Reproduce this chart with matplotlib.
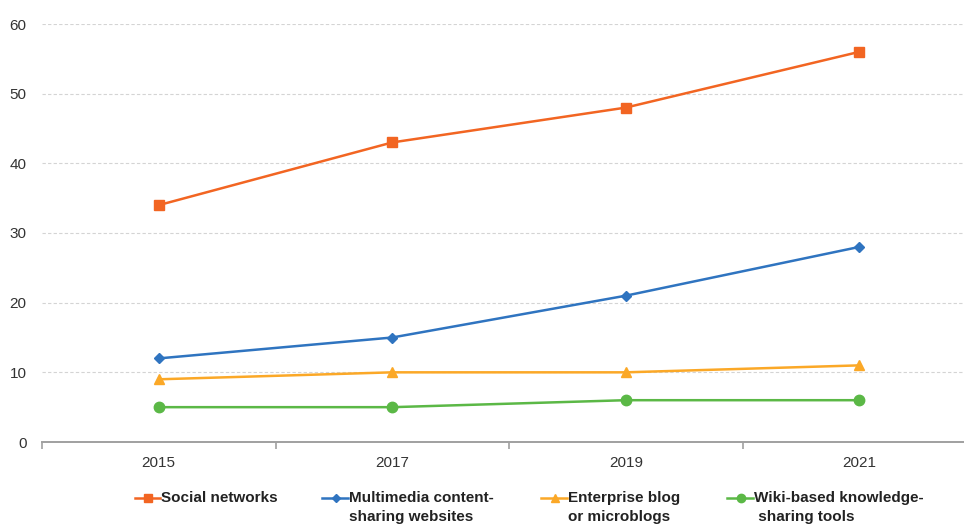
import matplotlib
matplotlib.use("Agg")
import matplotlib.pyplot as plt
from matplotlib.lines import Line2D

years = ["2015", "2017", "2019", "2021"]
social_networks = [34, 43, 48, 56]
multimedia_sharing = [12, 15, 21, 28]
enterprise_blog = [9, 10, 10, 11]
wiki_tools = [5, 5, 6, 6]

series = [
    ("Social networks", social_networks, "#F26522", "s", 7.5),
    ("Multimedia content-\nsharing websites", multimedia_sharing, "#2F74C0", "D", 5.5),
    ("Enterprise blog\nor microblogs", enterprise_blog, "#FBA827", "^", 7),
    ("Wiki-based knowledge-\n sharing tools", wiki_tools, "#5BB846", "o", 7.5),
]

plt.rcParams["font.family"] = ["Liberation Sans", "DejaVu Sans"]

fig = plt.figure(figsize=(9.64, 5.25), dpi=100)
ax = fig.add_axes([42 / 964, 1 - 442 / 525, 934 / 964, 418 / 525])

x = range(len(years))
for label, vals, color, marker, ms in series:
    ax.plot(x, vals, color=color, lw=1.8, marker=marker, markersize=ms,
            markeredgecolor=color, markerfacecolor=color, zorder=3)

ax.set_xlim(-0.5, len(years) - 0.5)
ax.set_ylim(0, 60)
ax.set_yticks(range(0, 61, 10))
ax.set_xticks(x)
ax.set_xticklabels(years)
ax.set_xticks([i - 0.5 for i in range(len(years) + 1)], minor=True)

ax.grid(axis="y", color="#d4d4d4", linestyle=(0, (3, 2)), linewidth=0.8)
ax.set_axisbelow(True)
for s in ["top", "right", "left"]:
    ax.spines[s].set_visible(False)
ax.spines["bottom"].set_color("#a0a0a0")
ax.spines["bottom"].set_linewidth(1.4)

ax.tick_params(axis="y", length=0, pad=11, labelsize=11, labelcolor="#333333")
ax.tick_params(axis="x", which="major", length=0, pad=10, labelsize=11, labelcolor="#333333")
ax.tick_params(axis="x", which="minor", length=5, width=1.2, color="#a0a0a0")

# legend row beneath the plot
legend_pos = [(135, 161), (322, 349), (541, 568), (727, 754)]
ly = 1 - 498 / 525
for (x0, tx), (label, vals, color, marker, ms) in zip(legend_pos, series):
    fig.add_artist(Line2D([x0 / 964, (tx - 1) / 964], [ly, ly], color=color, lw=1.8,
                          transform=fig.transFigure))
    fig.add_artist(Line2D([(x0 + tx) / 2 / 964], [ly], color=color, marker=marker,
                          markersize=ms * 0.8, transform=fig.transFigure))
    fig.text(tx / 964, 1 - 491 / 525, label, ha="left", va="top", fontsize=11,
             fontweight="bold", color="#222222", linespacing=1.45,
             transform=fig.transFigure)

fig.savefig("out.png", dpi=100)
